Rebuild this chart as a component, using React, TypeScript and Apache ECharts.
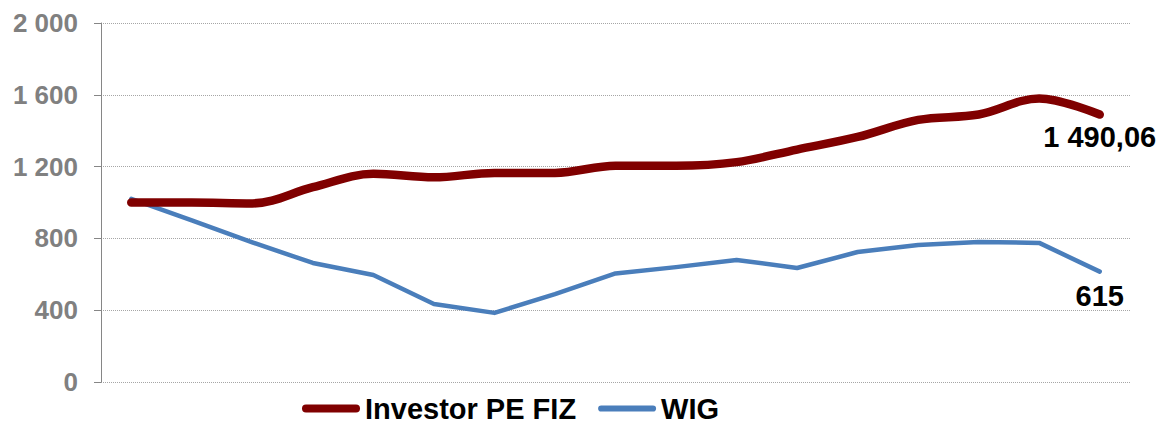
import React, { useEffect, useRef } from "react";
import * as echarts from "echarts";

const categories: string[] = [
  "1", "2", "3", "4", "5", "6", "7", "8", "9", "10", "11", "12", "13", "14", "15", "16", "17",
];
const investorValues: number[] = [
  1000, 1000, 995, 1085, 1160, 1140, 1165, 1165, 1205, 1205, 1225, 1295, 1365, 1460, 1490, 1580, 1490.06,
];
const wigValues: number[] = [
  1020, 900, 778, 663, 596, 435, 385, 490, 605, 640, 680, 635, 724, 763, 780, 775, 615,
];
const seriesNames: string[] = ["Investor PE FIZ", "WIG"];
const endLabelDecimals: number[] = [2, 0];
const yTicks = { min: 0, max: 2000, interval: 400 };

const FONT = "'Liberation Sans', Arial, Helvetica, sans-serif";
const RED = "#800000";
const BLUE = "#4A7EBB";

function fmt(v: number, decimals: number): string {
  const fixed = v.toFixed(decimals);
  const [intPart, dec] = fixed.split(".");
  const withSpaces = intPart.replace(/\B(?=(\d{3})+(?!\d))/g, " ");
  return dec ? withSpaces + "," + dec : withSpaces;
}

function buildData(values: number[], decimals: number, distance: number) {
  return values.map((v, i) =>
    i === values.length - 1
      ? {
          value: v,
          label: {
            show: true,
            position: "bottom",
            distance,
            formatter: () => fmt(v, decimals),
            color: "#000",
            fontFamily: FONT,
            fontWeight: "bold",
            fontSize: 29,
          },
        }
      : { value: v, label: { show: false } }
  );
}

export default function App() {
  const ref = useRef<HTMLDivElement>(null);
  useEffect(() => {
    if (!ref.current) return;
    const chart = echarts.init(ref.current, null, { renderer: "svg" });
    chart.setOption({
      animation: false,
      backgroundColor: "#ffffff",
      grid: { left: 101, right: 27, top: 23, bottom: 41, containLabel: false },
      legend: {
        data: [
          { name: seriesNames[0], icon: "path://M4,0H54A4,4 0 0 1 54,8H4A4,4 0 0 1 4,0Z" },
          { name: seriesNames[1], icon: "path://M3,0H53A3,3 0 0 1 53,6H3A3,3 0 0 1 3,0Z" },
        ],
        left: 302,
        top: 394,
        padding: 0,
        itemWidth: 58,
        itemHeight: 8,
        itemGap: 22,
        textStyle: { color: "#000", fontFamily: FONT, fontWeight: "bold", fontSize: 29 },
      },
      xAxis: {
        type: "category",
        data: categories,
        boundaryGap: true,
        axisLine: { show: false },
        axisTick: { show: false },
        axisLabel: { show: false },
        splitLine: { show: false },
      },
      yAxis: {
        type: "value",
        min: yTicks.min,
        max: yTicks.max,
        interval: yTicks.interval,
        axisLine: { show: true, lineStyle: { color: "#868686", width: 1 } },
        axisTick: { show: true, length: 7, lineStyle: { color: "#868686", width: 1 } },
        axisLabel: {
          margin: 23,
          color: "#808080",
          fontFamily: FONT,
          fontWeight: "bold",
          fontSize: 26,
          formatter: (v: number) => fmt(v, 0),
        },
        splitLine: { show: true, lineStyle: { color: "#a6a6a6", type: "dotted", width: 1 } },
      },
      series: [
        {
          name: seriesNames[1],
          type: "line",
          data: buildData(wigValues, endLabelDecimals[1], 10),
          color: BLUE,
          symbol: "circle",
          symbolSize: 0,
          showSymbol: true,
          smooth: false,
          z: 2,
          lineStyle: { color: BLUE, width: 4.5, cap: "round", join: "round" },
          itemStyle: { color: BLUE },
        },
        {
          name: seriesNames[0],
          type: "line",
          data: buildData(investorValues, endLabelDecimals[0], 8),
          color: RED,
          symbol: "circle",
          symbolSize: 0,
          showSymbol: true,
          smooth: 0.35,
          z: 3,
          lineStyle: { color: RED, width: 8.5, cap: "round", join: "round" },
          itemStyle: { color: RED },
        },
      ],
    });
    return () => chart.dispose();
  }, []);
  return <div ref={ref} style={{ width: 1157, height: 423, position: "absolute", left: 0, top: 0 }} />;
}
